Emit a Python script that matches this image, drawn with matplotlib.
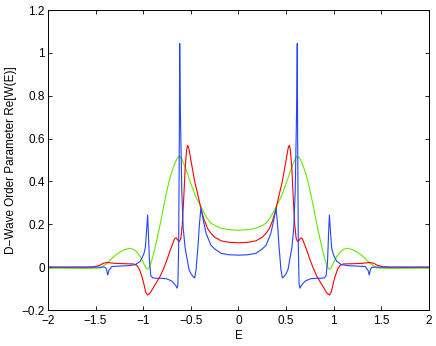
import numpy as np
import matplotlib
matplotlib.use("Agg")
import matplotlib.pyplot as plt

# Values for E >= 0 (the chart is mirror-symmetric in E)
blue_E = [0.00, 0.10, 0.18, 0.25, 0.29, 0.34, 0.37, 0.385, 0.395, 0.41, 0.425, 0.445,
          0.46, 0.475, 0.50, 0.52, 0.54, 0.56, 0.58, 0.595, 0.607, 0.612, 0.617, 0.621,
          0.628, 0.636, 0.645, 0.66, 0.70, 0.75, 0.80, 0.86, 0.90, 0.92, 0.935, 0.945,
          0.954, 0.965, 0.978, 0.995, 1.03, 1.08, 1.15, 1.25, 1.33, 1.36, 1.373, 1.385,
          1.40, 1.50, 2.00]
blue_y = [0.056, 0.058, 0.064, 0.085, 0.103, 0.158, 0.22, 0.255, 0.274, 0.20, 0.10, -0.01,
          -0.05, -0.045, -0.03, -0.01, 0.04, 0.09, 0.18, 0.35, 0.65, 0.80, 1.044, 0.60,
          0.10, -0.08, -0.098, -0.085, -0.065, -0.055, -0.052, -0.052, -0.05, -0.04, 0.03, 0.15,
          0.243, 0.17, 0.09, 0.06, 0.028, 0.012, 0.007, 0.005, 0.003, -0.015, -0.037, -0.01,
          0.0, 0.0, 0.0]

red_E = [0.00, 0.10, 0.184, 0.25, 0.289, 0.324, 0.36, 0.39, 0.41, 0.43, 0.46, 0.48,
         0.50, 0.515, 0.525, 0.535, 0.545, 0.56, 0.575, 0.59, 0.605, 0.62, 0.635, 0.655, 0.67,
         0.69, 0.716, 0.75, 0.785, 0.82, 0.856, 0.90, 0.93, 0.955, 0.975, 0.995, 1.013,
         1.04, 1.066, 1.10, 1.20, 1.30, 1.38, 1.42, 1.46, 1.52, 1.60, 2.00]
red_y = [0.114, 0.116, 0.123, 0.14, 0.158, 0.18, 0.22, 0.265, 0.305, 0.344, 0.40, 0.45,
         0.50, 0.54, 0.562, 0.568, 0.545, 0.46, 0.32, 0.20, 0.135, 0.119, 0.125, 0.137, 0.133,
         0.11, 0.08, 0.035, -0.005, -0.04, -0.068, -0.10, -0.122, -0.13, -0.115, -0.075, -0.045,
         -0.01, 0.008, 0.015, 0.016, 0.018, 0.022, 0.018, 0.008, 0.002, 0.0, 0.0]

green_E = [0.00, 0.10, 0.184, 0.25, 0.29, 0.34, 0.394, 0.45, 0.50, 0.55, 0.575, 0.595,
           0.617, 0.64, 0.663, 0.69, 0.716, 0.75, 0.785, 0.82, 0.856, 0.89, 0.915, 0.935,
           0.952, 0.968, 0.985, 1.00, 1.03, 1.07, 1.10, 1.136, 1.19, 1.24, 1.31, 1.38, 1.45,
           1.55, 2.00]
green_y = [0.172, 0.175, 0.182, 0.195, 0.205, 0.235, 0.282, 0.33, 0.39, 0.455, 0.484, 0.506,
           0.518, 0.51, 0.49, 0.458, 0.422, 0.36, 0.285, 0.205, 0.13, 0.065, 0.025, 0.0,
           -0.009, -0.006, 0.008, 0.023, 0.049, 0.072, 0.083, 0.088, 0.083, 0.072, 0.049, 0.018,
           -0.004, -0.006, -0.005]

x_ticks = [-2, -1.5, -1, -0.5, 0, 0.5, 1, 1.5, 2]
x_labels = ["\u22122", "\u22121.5", "\u22121", "\u22120.5", "0", "0.5", "1", "1.5", "2"]
y_ticks = [-0.2, 0, 0.2, 0.4, 0.6, 0.8, 1.0, 1.2]
y_labels = ["\u22120.2", "0", "0.2", "0.4", "0.6", "0.8", "1", "1.2"]


def full(E, y):
    E = np.asarray(E, float)
    y = np.asarray(y, float)
    return np.concatenate([-E[::-1], E[1:]]), np.concatenate([y[::-1], y[1:]])


plt.rcParams['font.family'] = ['Liberation Sans', 'DejaVu Sans']
plt.rcParams['font.size'] = 8.5

fig = plt.figure(figsize=(4.36, 3.46), dpi=100)
ax = fig.add_axes([0.110, 0.104, 0.874, 0.867])

for E, y, c in [(green_E, green_y, '#66e800'), (red_E, red_y, '#ff0000'), (blue_E, blue_y, '#2244ff')]:
    xx, yy = full(E, y)
    ax.plot(xx, yy, color=c, lw=0.8)

ax.set_xlim(-2, 2)
ax.set_ylim(-0.2, 1.2)
ax.set_xticks(x_ticks)
ax.set_xticklabels(x_labels)
ax.set_yticks(y_ticks)
ax.set_yticklabels(y_labels)
ax.tick_params(direction='in', length=2.9, width=0.6, top=True, right=True,
               labelsize=8.5, colors='black')
ax.tick_params(axis='x', pad=3.5)
ax.tick_params(axis='y', pad=2.2)
for s in ax.spines.values():
    s.set_linewidth(0.7)
ax.set_xlabel("E", fontsize=8.5, labelpad=2)
ax.set_ylabel("D\u2212Wave Order Parameter Re[W(E)]", fontsize=8.5, labelpad=3)

fig.savefig("out.png", dpi=100)
